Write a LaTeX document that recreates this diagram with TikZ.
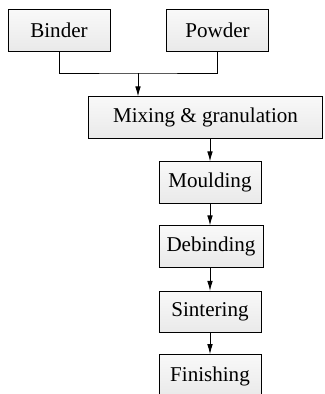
\documentclass[tikz,border=0pt]{standalone}
\usepackage{fontspec}
\setmainfont{Liberation Serif}
\usetikzlibrary{arrows.meta}
\tikzset{
  stage/.style={draw, line width=0.65pt, top color=gray!5, bottom color=gray!17,
    minimum height=31pt, inner sep=0pt, font=\fontsize{15.8}{18}\selectfont},
  flow/.style={line width=0.65pt, -{Latex[length=7.5pt,width=4.2pt]}}
}

\begin{document}
\begin{tikzpicture}[x=0.75pt, y=-0.75pt]
      \clip (0,0) rectangle (325,394);
      \node [stage, minimum width=76.5pt] (binder) at (59,30.5) {Binder};
      \node [stage, minimum width=77pt] (powder) at (217.5,30.5) {Powder};
      \node [stage, minimum width=176pt] (mix) at (205.5,117.5) {Mixing \& granulation};
      \node [stage, minimum width=76.5pt] (mould) at (210,182.5) {Moulding};
      \node [stage, minimum width=78pt] (debind) at (211,246.5) {Debinding};
      \node [stage, minimum width=76.5pt] (sinter) at (210,312) {Sintering};
      \node [stage, minimum width=76.5pt, minimum height=32pt] (finish) at (210,376) {Finishing};
      \coordinate (join) at (138,73);
      \draw [line width=0.65pt] (binder.south) |- (join) -| (powder.south);
      \draw [flow] (join) -- (join |- mix.north);
      \draw [flow] (mould.north |- mix.south) -- (mould.north);
      \draw [flow] (mould.south) -- (mould.south |- debind.north);
      \draw [flow] (mould.south |- debind.south) -- (mould.south |- sinter.north);
      \draw [flow] (sinter.south) -- (finish.north);
\end{tikzpicture}
\end{document}
